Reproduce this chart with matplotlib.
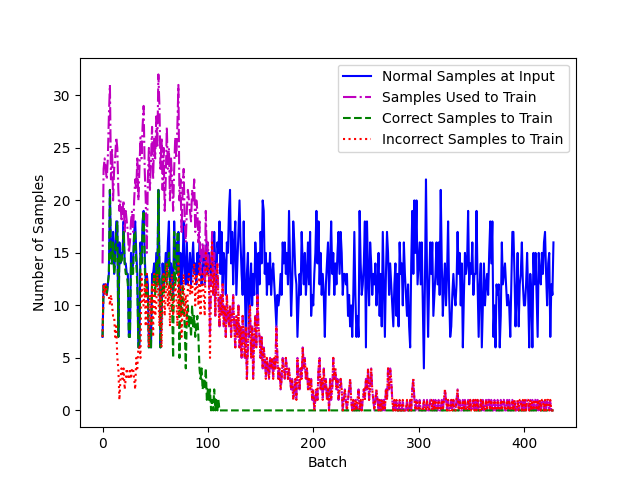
import matplotlib
matplotlib.use("Agg")
import matplotlib.pyplot as plt

# ==========================================================
# DATA (one value per batch)
# ==========================================================
normal_input = [
    7, 12, 12, 12, 11, 12, 13, 21, 15, 14,
    17, 13, 15, 18, 18, 7, 16, 14, 15, 15,
    18, 14, 14, 13, 13, 7, 7, 15, 13, 14,
    17, 18, 15, 13, 6, 6, 16, 14, 18, 19,
    15, 12, 13, 12, 6, 8, 6, 13, 13, 14,
    12, 15, 12, 21, 14, 6, 9, 14, 12, 13,
    15, 13, 16, 18, 12, 14, 13, 11, 18, 14,
    16, 13, 17, 11, 15, 12, 14, 18, 13, 12,
    16, 12, 13, 15, 12, 14, 16, 13, 14, 12,
    15, 13, 16, 14, 12, 13, 15, 12, 14, 16,
    13, 15, 14, 12, 16, 13, 17, 14, 12, 16,
    15, 18, 13, 17, 12, 15, 14, 11, 16, 15,
    19, 21, 14, 17, 12, 16, 18, 11, 14, 17,
    20, 16, 13, 11, 18, 12, 7, 13, 15, 7,
    12, 14, 10, 13, 11, 16, 14, 10, 15, 12,
    17, 14, 20, 19, 13, 15, 11, 14, 12, 15,
    11, 13, 14, 12, 10, 8, 11, 10, 11, 13,
    11, 16, 14, 16, 13, 15, 12, 19, 14, 9,
    12, 18, 16, 13, 12, 7, 10, 13, 11, 17,
    14, 12, 15, 11, 13, 16, 12, 17, 9, 11,
    10, 13, 15, 19, 14, 18, 12, 15, 11, 13,
    11, 7, 12, 14, 16, 11, 14, 18, 13, 15,
    11, 14, 12, 15, 17, 13, 17, 15, 11, 13,
    13, 12, 13, 9, 11, 8, 10, 7, 11, 17,
    11, 7, 9, 7, 19, 14, 11, 12, 14, 18,
    6, 18, 13, 10, 16, 14, 11, 13, 12, 14,
    10, 12, 15, 9, 13, 8, 17, 12, 7, 13,
    17, 15, 11, 14, 12, 10, 8, 12, 14, 9,
    13, 8, 16, 13, 14, 10, 16, 13, 11, 9,
    12, 8, 6, 14, 19, 13, 20, 15, 20, 12,
    14, 16, 12, 16, 10, 4, 12, 22, 13, 7,
    12, 16, 13, 16, 9, 11, 13, 16, 12, 16,
    11, 21, 14, 9, 12, 14, 10, 13, 18, 11,
    7, 8, 11, 13, 11, 10, 12, 17, 13, 15,
    10, 14, 6, 11, 15, 13, 14, 19, 12, 14,
    13, 16, 11, 13, 13, 19, 12, 7, 12, 14,
    6, 10, 14, 10, 12, 13, 11, 15, 18, 14,
    18, 7, 10, 6, 12, 11, 12, 6, 9, 16,
    12, 13, 14, 12, 10, 11, 10, 7, 12, 17,
    17, 13, 8, 11, 15, 8, 12, 13, 16, 12,
    10, 10, 12, 15, 11, 6, 13, 11, 6, 15,
    12, 15, 11, 7, 15, 13, 12, 15, 13, 16,
    17, 13, 10, 14, 15, 7, 12, 11, 16,
]

# correct samples: non-zero only for the first ~110 batches
correct_early = [
    7, 12, 12, 12, 11, 12, 13, 21, 14, 14,
    16, 13, 14, 17, 18, 7, 15, 14, 14, 15,
    17, 14, 13, 13, 12, 7, 7, 14, 13, 13,
    17, 17, 14, 12, 6, 6, 15, 14, 17, 19,
    14, 11, 12, 11, 6, 7, 6, 12, 12, 13,
    11, 14, 12, 21, 13, 6, 9, 13, 11, 12,
    14, 12, 14, 15, 11, 12, 10, 5, 17, 12,
    13, 17, 17, 5, 11, 9, 12, 10, 8, 4,
    9, 10, 8, 9, 7, 10, 8, 9, 7, 8,
    9, 7, 4, 3, 4, 2, 3, 2, 4, 1,
    2, 1, 2, 0, 1, 0, 2, 0, 1, 0, 1, 0,
]

incorrect = [
    7, 12, 11, 12, 11, 11, 11, 10, 11, 10,
    9, 9, 7, 8, 5, 4, 1, 3, 4, 3,
    4, 2, 3, 4, 3, 3, 4, 3, 4, 4,
    3, 2, 5, 4, 6, 6, 5, 13, 10, 10,
    12, 8, 13, 9, 6, 11, 8, 12, 7, 13,
    9, 10, 13, 11, 8, 12, 6, 11, 13, 9,
    11, 14, 10, 12, 8, 12, 13, 9, 11, 12,
    11, 8, 14, 9, 12, 7, 10, 13, 9, 11,
    8, 12, 13, 11, 12, 11, 13, 14, 10, 13,
    12, 10, 14, 9, 12, 13, 11, 9, 15, 13,
    14, 12, 5, 13, 16, 11, 13, 9, 12, 14,
    10, 8, 11, 9, 12, 8, 10, 7, 11, 9,
    8, 10, 7, 9, 11, 8, 6, 9, 7, 10,
    6, 8, 5, 9, 7, 5, 8, 3, 6, 9,
    10, 5, 8, 3, 7, 9, 6, 11, 8, 7,
    5, 7, 4, 6, 5, 3, 5, 4, 3, 5,
    4, 5, 3, 5, 4, 8, 5, 3, 4, 2,
    3, 5, 4, 3, 5, 4, 3, 4, 3, 2,
    3, 1, 2, 3, 1, 5, 3, 2, 4, 3,
    6, 4, 5, 3, 4, 2, 3, 2, 3, 1,
    2, 0, 1, 2, 1, 4, 5, 2, 3, 1,
    4, 2, 3, 1, 2, 0, 3, 1, 2, 5,
    3, 4, 2, 3, 1, 2, 3, 2, 0, 1,
    2, 1, 0, 1, 2, 3, 1, 0, 1, 0,
    1, 0, 1, 2, 0, 1, 0, 1, 2, 1,
    3, 2, 4, 1, 2, 4, 2, 1, 0, 1,
    2, 1, 0, 1, 0, 1, 0, 1, 0, 2,
    1, 4, 2, 4, 3, 1, 0, 1, 0, 1,
    0, 0, 1, 0, 0, 1, 0, 0, 0, 1,
    0, 0, 1, 0, 2, 3, 1, 0, 1, 0,
    0, 1, 0, 0, 0, 1, 0, 0, 1, 0,
    0, 1, 1, 0, 1, 0, 1, 0, 0, 1,
    0, 0, 1, 0, 1, 2, 1, 0, 1, 0,
    0, 1, 0, 1, 0, 0, 1, 2, 0, 1,
    0, 0, 1, 0, 1, 0, 0, 1, 0, 1,
    0, 0, 1, 0, 1, 0, 1, 0, 0, 1,
    0, 1, 0, 0, 1, 0, 1, 1, 0, 1,
    0, 0, 1, 0, 0, 1, 0, 0, 1, 0,
    1, 1, 0, 0, 1, 0, 1, 0, 0, 1,
    0, 1, 0, 0, 1, 0, 1, 1, 0, 1,
    0, 1, 0, 1, 1, 0, 1, 0, 1, 0,
    1, 1, 0, 1, 0, 1, 0, 1, 1, 0,
    1, 0, 1, 1, 0, 1, 0, 0, 0,
]

# samples used to train: differs from 'incorrect' only while 'correct' > 0
used_early = [
    14, 23, 24, 23, 22, 24, 28, 31, 22, 25,
    20, 23, 24, 26, 25, 21, 19, 20, 18, 19,
    20, 17, 19, 18, 17, 15, 16, 18, 19, 17,
    20, 22, 21, 24, 20, 23, 26, 24, 27, 29,
    23, 20, 15, 22, 25, 21, 24, 27, 22, 26,
    24, 28, 25, 32, 29, 23, 26, 21, 25, 19,
    22, 27, 23, 25, 20, 24, 22, 19, 23, 26,
    24, 27, 31, 20, 22, 17, 21, 23, 18, 16,
    19, 21, 20, 19, 18, 21, 20, 22, 17, 20,
    19, 16, 18, 13, 15, 16, 14, 12, 19, 14,
    16, 13, 7, 13, 17, 11, 15, 9, 13, 14, 11, 8,
]

batches = list(range(len(normal_input)))
correct = correct_early + [0] * (len(batches) - len(correct_early))
used = used_early + incorrect[len(used_early):]

# ==========================================================
# PLOT
# ==========================================================
plt.figure(figsize=(6.4, 4.8), dpi=100)
plt.plot(batches, normal_input, 'b-', label='Normal Samples at Input')
plt.plot(batches, used, 'm-.', label='Samples Used to Train')
plt.plot(batches, correct, 'g--', label='Correct Samples to Train')
plt.plot(batches, incorrect, 'r:', label='Incorrect Samples to Train')
plt.xlabel('Batch')
plt.ylabel('Number of Samples')
plt.legend(loc='upper right')
plt.savefig("out.png", dpi=100)
plt.close()
